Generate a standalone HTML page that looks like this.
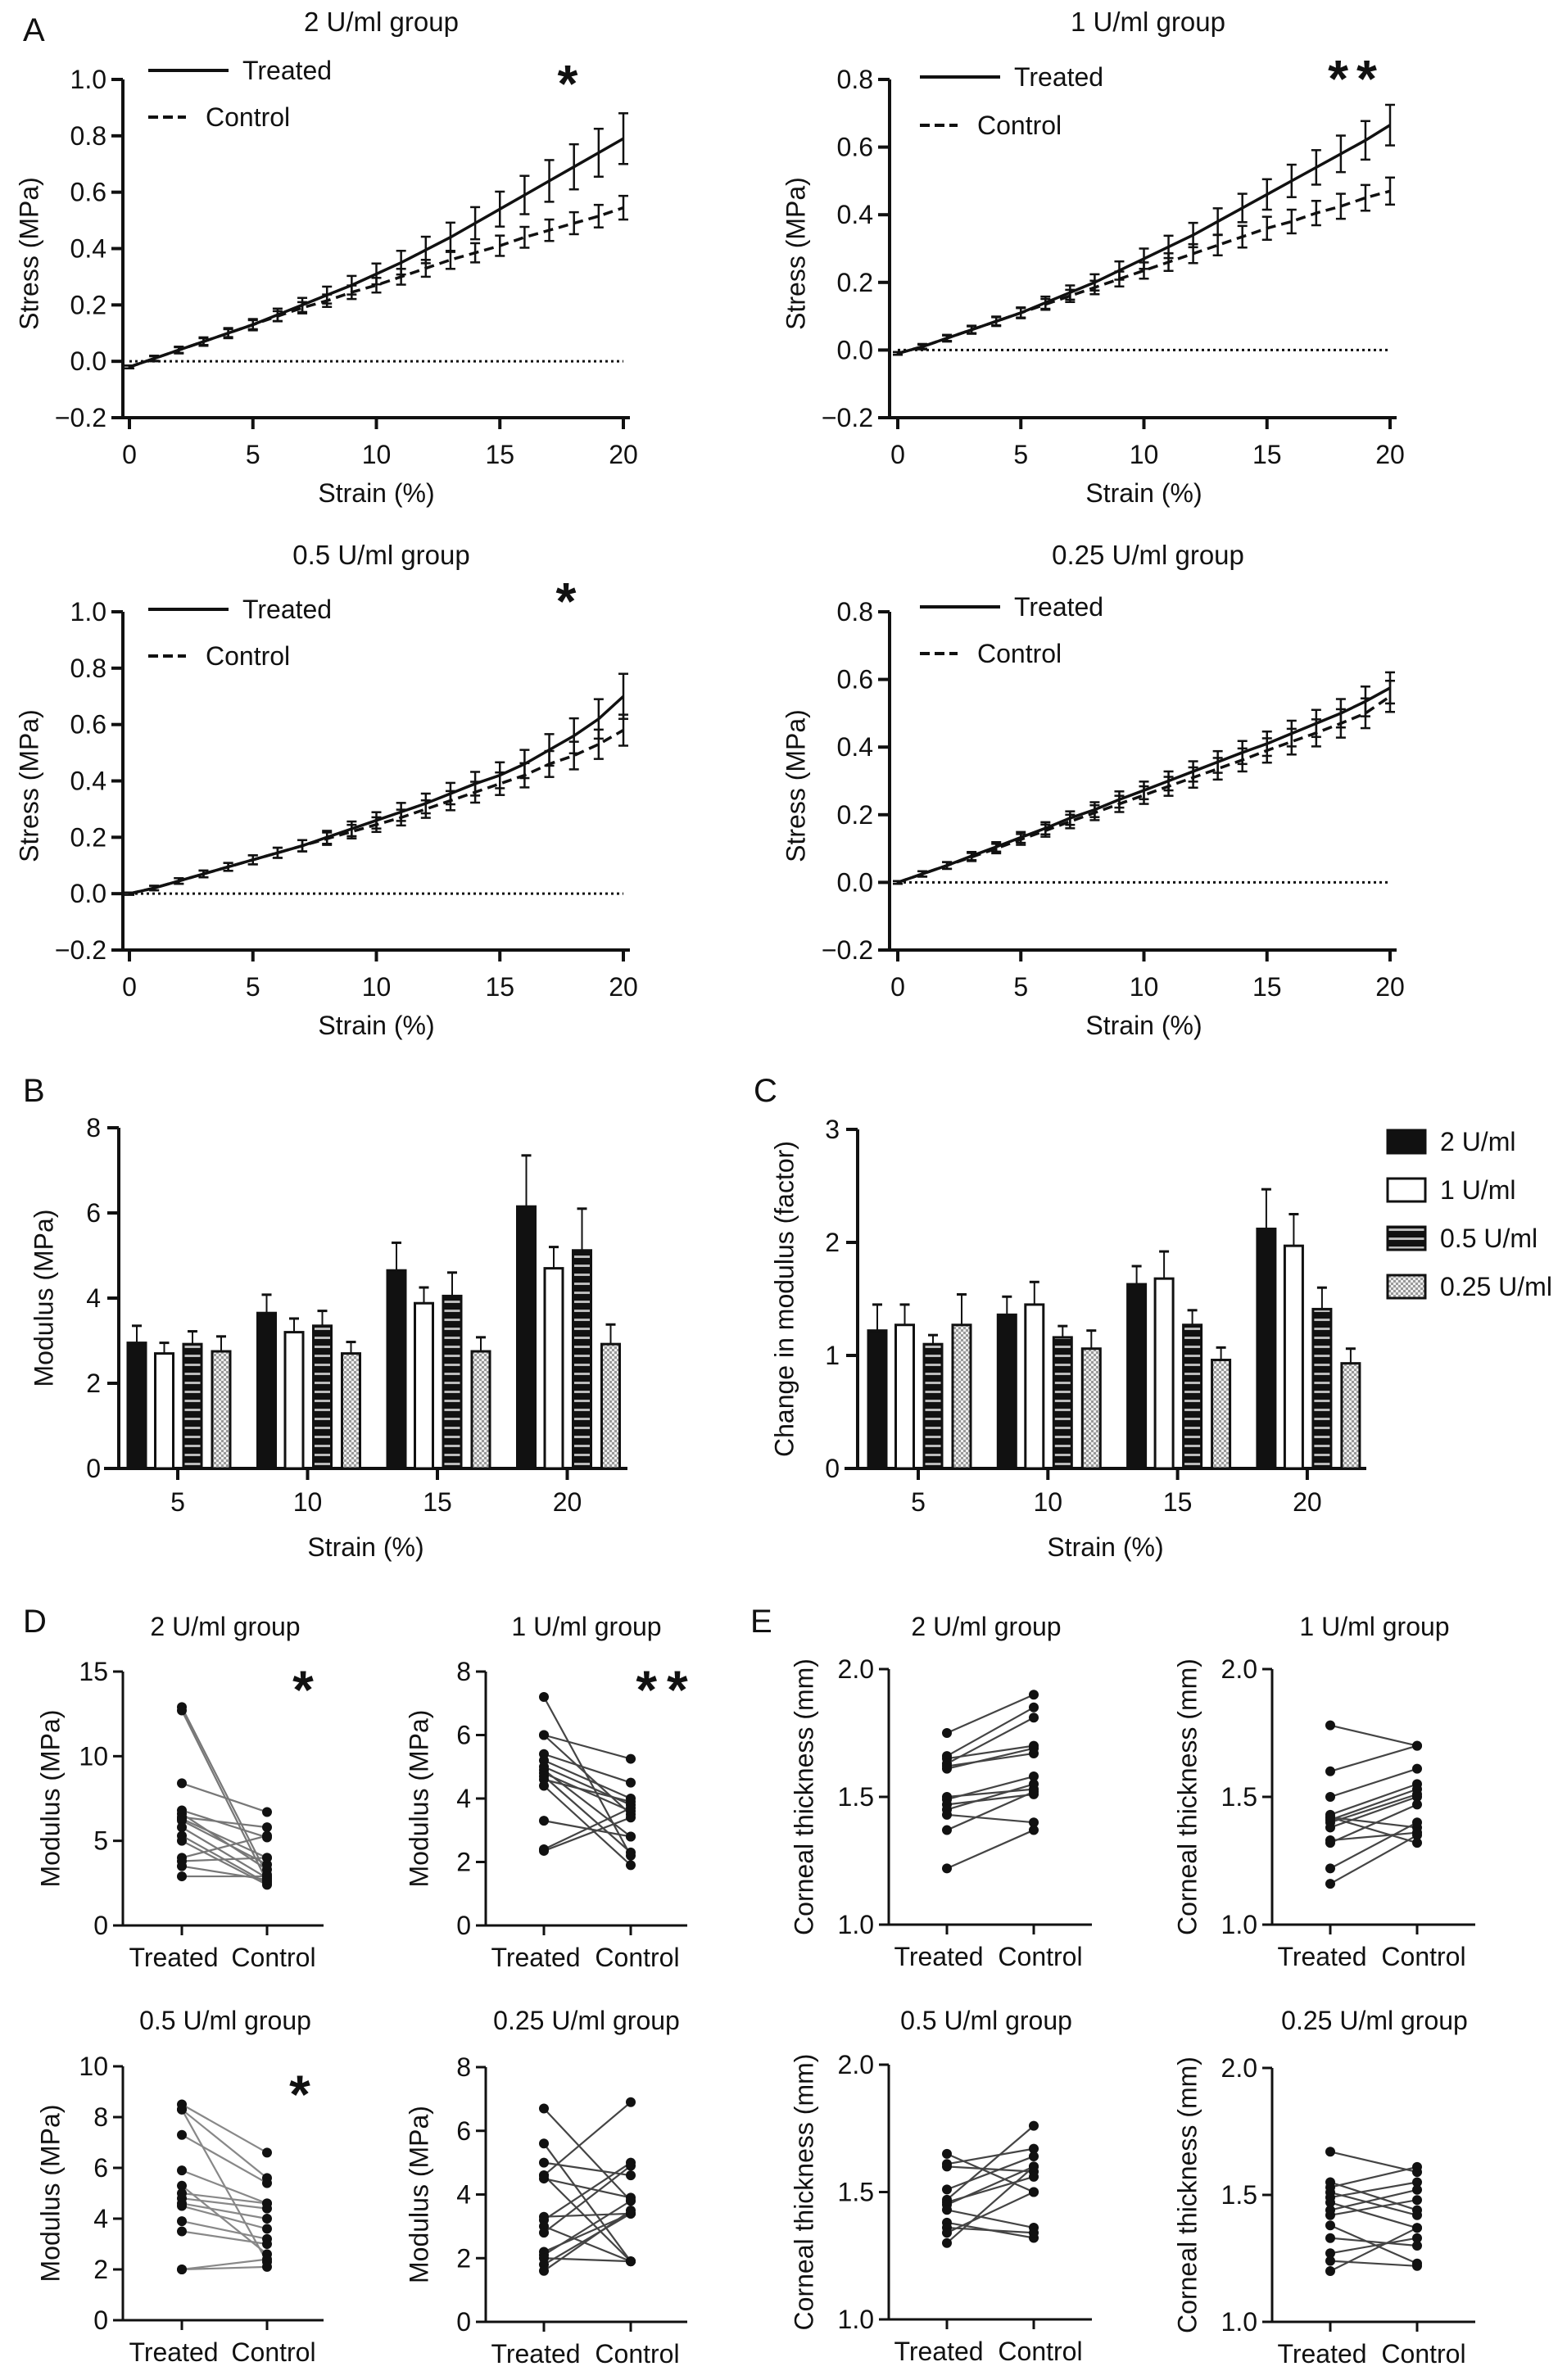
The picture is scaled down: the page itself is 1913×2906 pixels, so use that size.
<!DOCTYPE html>
<html><head><meta charset="utf-8"><style>
html,body{margin:0;padding:0;background:#fff;}
svg{display:block;font-family:"Liberation Sans",Arial,sans-serif;}
</style></head><body>
<svg id="fig" width="1913" height="2906" viewBox="0 0 1913 2906" xmlns="http://www.w3.org/2000/svg">
<defs>
<pattern id="stripes" width="8" height="11" patternUnits="userSpaceOnUse"><rect width="8" height="11" fill="#111"/><rect y="4" width="8" height="3" fill="#bbb"/></pattern>
<pattern id="dots" width="6" height="6" patternUnits="userSpaceOnUse"><rect width="6" height="6" fill="#eee"/><rect width="3" height="3" fill="#999"/><rect x="3" y="3" width="3" height="3" fill="#999"/></pattern>
</defs>
</svg>
<script>
// ---------- Panel A data (strain 0..20 step 1) ----------
const strain = [0,1,2,3,4,5,6,7,8,9,10,11,12,13,14,15,16,17,18,19,20];
const a1Treated = [-0.02,0.01,0.04,0.07,0.10,0.13,0.165,0.20,0.235,0.27,0.31,0.35,0.395,0.44,0.49,0.54,0.59,0.64,0.69,0.74,0.79];
const a1TreatedErr = [0.005,0.01,0.012,0.015,0.018,0.02,0.022,0.025,0.03,0.033,0.037,0.042,0.047,0.052,0.057,0.062,0.068,0.074,0.08,0.085,0.09];
const a1Control = [-0.02,0.01,0.04,0.07,0.10,0.13,0.16,0.19,0.215,0.245,0.27,0.30,0.33,0.36,0.385,0.41,0.44,0.465,0.49,0.515,0.545];
const a1ControlErr = [0.005,0.008,0.01,0.012,0.014,0.016,0.018,0.02,0.022,0.024,0.026,0.028,0.03,0.032,0.034,0.036,0.037,0.038,0.039,0.04,0.042];
const a2Treated = [-0.01,0.01,0.035,0.06,0.085,0.11,0.14,0.17,0.20,0.235,0.27,0.305,0.34,0.38,0.42,0.46,0.50,0.54,0.58,0.62,0.665];
const a2TreatedErr = [0.004,0.008,0.01,0.012,0.014,0.016,0.018,0.021,0.024,0.027,0.03,0.033,0.036,0.039,0.042,0.045,0.048,0.051,0.054,0.057,0.06];
const a2Control = [-0.01,0.01,0.035,0.06,0.085,0.11,0.135,0.16,0.185,0.21,0.235,0.26,0.285,0.31,0.335,0.36,0.38,0.405,0.425,0.45,0.47];
const a2ControlErr = [0.004,0.006,0.008,0.01,0.012,0.014,0.016,0.018,0.02,0.022,0.024,0.026,0.028,0.03,0.032,0.034,0.035,0.036,0.037,0.038,0.04];
const a3Treated = [0,0.02,0.045,0.07,0.095,0.12,0.145,0.17,0.20,0.23,0.26,0.29,0.32,0.355,0.39,0.42,0.46,0.51,0.56,0.62,0.70];
const a3TreatedErr = [0.004,0.008,0.01,0.012,0.014,0.016,0.018,0.02,0.023,0.026,0.029,0.032,0.035,0.038,0.042,0.046,0.05,0.056,0.062,0.07,0.08];
const a3Control = [0,0.02,0.045,0.07,0.095,0.12,0.145,0.17,0.195,0.22,0.245,0.27,0.30,0.33,0.36,0.39,0.42,0.46,0.49,0.53,0.58];
const a3ControlErr = [0.004,0.008,0.01,0.012,0.014,0.016,0.018,0.02,0.022,0.024,0.026,0.028,0.031,0.034,0.037,0.04,0.043,0.046,0.049,0.052,0.055];
const a4Treated = [0,0.025,0.05,0.078,0.105,0.133,0.16,0.19,0.215,0.245,0.272,0.30,0.328,0.356,0.384,0.41,0.44,0.47,0.50,0.535,0.575];
const a4TreatedErr = [0.004,0.008,0.01,0.012,0.014,0.016,0.018,0.02,0.022,0.024,0.026,0.028,0.03,0.032,0.034,0.036,0.038,0.04,0.042,0.044,0.046];
const a4Control = [0,0.025,0.05,0.075,0.1,0.127,0.153,0.18,0.206,0.232,0.258,0.284,0.31,0.336,0.362,0.39,0.416,0.442,0.47,0.5,0.55];
const a4ControlErr = [0.004,0.008,0.01,0.012,0.014,0.016,0.018,0.02,0.022,0.024,0.026,0.028,0.03,0.032,0.034,0.036,0.038,0.04,0.042,0.044,0.046];

// ---------- Panel B / C data ----------
const barCategories = ["5","10","15","20"];
const barGroups = ["2 U/ml","1 U/ml","0.5 U/ml","0.25 U/ml"];
const bMean2 = [2.95,3.65,4.65,6.15];
const bMean1 = [2.7,3.2,3.88,4.7];
const bMean05 = [2.92,3.35,4.05,5.12];
const bMean025 = [2.75,2.7,2.75,2.92];
const bTop2 = [3.35,4.08,5.3,7.35];
const bTop1 = [2.95,3.52,4.25,5.2];
const bTop05 = [3.22,3.7,4.6,6.1];
const bTop025 = [3.1,2.97,3.08,3.38];
const cMean2 = [1.22,1.36,1.63,2.12];
const cMean1 = [1.27,1.45,1.68,1.97];
const cMean05 = [1.1,1.16,1.27,1.41];
const cMean025 = [1.27,1.06,0.96,0.93];
const cTop2 = [1.45,1.52,1.79,2.47];
const cTop1 = [1.45,1.65,1.92,2.25];
const cTop05 = [1.18,1.26,1.4,1.6];
const cTop025 = [1.54,1.22,1.07,1.06];

// ---------- Panel D data (treated, control pairs) ----------
const d1Treated = [12.9,12.7,8.4,6.8,6.6,6.4,6.3,6.2,5.8,5.3,5.0,4.0,3.8,3.5,2.9];
const d1Control = [3.0,2.6,6.7,5.2,3.3,5.8,4.0,3.6,2.8,2.5,2.4,5.3,4.0,2.7,2.9];
const d2Treated = [7.2,6.0,6.0,5.4,5.2,5.0,4.9,4.8,4.7,4.6,4.4,3.3,2.4,2.35];
const d2Control = [2.2,5.25,3.5,4.5,4.0,3.8,2.8,3.6,2.3,3.9,1.9,2.8,3.7,3.4];
const d3Treated = [8.5,8.3,8.3,7.3,5.9,5.3,5.0,4.8,4.6,4.5,3.9,3.5,2.0,2.0];
const d3Control = [6.6,5.6,2.3,5.4,4.6,2.6,4.6,4.4,4.0,3.6,3.2,3.0,2.4,2.1];
const d4Treated = [6.7,5.6,5.0,4.6,4.5,4.6,3.3,3.2,3.0,2.8,2.2,2.1,2.0,1.8,1.6];
const d4Control = [3.8,1.9,4.6,1.9,3.9,6.9,3.4,5.0,1.9,4.9,3.4,3.8,1.9,3.4,3.5];
// ---------- Panel E data ----------
const e1Treated = [1.75,1.66,1.65,1.63,1.62,1.61,1.50,1.49,1.47,1.45,1.43,1.37,1.22];
const e1Control = [1.90,1.85,1.70,1.81,1.67,1.69,1.53,1.58,1.51,1.55,1.40,1.52,1.37];
const e2Treated = [1.78,1.60,1.50,1.43,1.42,1.41,1.40,1.38,1.33,1.32,1.22,1.16,1.42];
const e2Control = [1.70,1.70,1.61,1.55,1.38,1.53,1.51,1.50,1.36,1.47,1.40,1.35,1.32];
const e3Treated = [1.65,1.61,1.60,1.51,1.47,1.46,1.45,1.43,1.38,1.36,1.34,1.30];
const e3Control = [1.50,1.67,1.58,1.64,1.76,1.56,1.60,1.36,1.32,1.34,1.50,1.60];
const e4Treated = [1.67,1.55,1.53,1.51,1.49,1.47,1.44,1.42,1.38,1.33,1.27,1.24,1.20];
const e4Control = [1.59,1.44,1.61,1.42,1.55,1.37,1.52,1.48,1.23,1.30,1.33,1.22,1.37];
const pairLabels = ["Treated","Control"];

const svg = document.getElementById('fig');
const NS = 'http://www.w3.org/2000/svg';
function el(tag, attrs, parent){
  const e = document.createElementNS(NS, tag);
  for (const k in attrs) e.setAttribute(k, attrs[k]);
  (parent||svg).appendChild(e);
  return e;
}
function txt(x,y,s,size,anchor,name,extra){
  const t = el('text', Object.assign({x:x,y:y,'font-size':size,'text-anchor':anchor||'middle',fill:'#111'}, extra||{}));
  t.textContent = s;
  
  
  return t;
}
function ln(x1,y1,x2,y2,w,name,extra){
  const l = el('line', Object.assign({x1:x1,y1:y1,x2:x2,y2:y2,stroke:'#111','stroke-width':w}, extra||{}));
  
  
  return l;
}
function ylabel(x,y,s,name,size){
  const t = txt(x,y,s,size||32,'middle',name,{transform:'rotate(-90 '+x+' '+y+')','dominant-baseline':'middle'});
  return t;
}

// ---------- Line charts ----------
function lineChart(c){
  const sx = v => c.x0 + (v-0)/(20-0)*(c.x1-c.x0);
  const sy = v => c.yb + (v-c.ymin)/(c.ymax-c.ymin)*(c.yt-c.yb);
  txt((c.ax+c.x1)/2+10, c.titleY, c.title, 33, 'middle', c.key+'-title');
  ln(c.ax, c.yt, c.ax, c.yb, 4, c.key+'-y-axis');
  ln(c.ax-2, c.yb, c.x1+8, c.yb, 4, c.key+'-x-axis');
  c.yticks.forEach(v=>{
    ln(c.ax-14, sy(v), c.ax, sy(v), 4, c.key+'-y-tick');
    txt(c.ax-20, sy(v)+11, (v<0?'\u22120.2':v.toFixed(1)), 32, 'end', c.key+'-y-tick-label');
  });
  [0,5,10,15,20].forEach(v=>{
    ln(sx(v), c.yb, sx(v), c.yb+14, 4, c.key+'-x-tick');
    txt(sx(v), c.yb+56, String(v), 32, 'middle', c.key+'-x-tick-label');
  });
  txt((c.x0+c.x1)/2, c.yb+103, 'Strain (%)', 32, 'middle', c.key+'-x-axis-title');
  ylabel(c.ylx, (c.yt+c.yb)/2+6, 'Stress (MPa)', c.key+'-y-axis-title');
  ln(sx(0), sy(0), sx(20), sy(0), 3, c.key+'-zero-line', {'stroke-dasharray':'3,4'});
  const series = [[c.tr,c.trE,'none','treated'],[c.co,c.coE,'12,7','control']];
  series.forEach(s=>{
    const pts = strain.map((x,i)=>sx(x)+','+sy(s[0][i])).join(' ');
    const p = el('polyline',{points:pts,fill:'none',stroke:'#111','stroke-width':3.5,'stroke-dasharray':s[2]});
    
    
    strain.forEach((x,i)=>{
      const X = sx(x), hi = sy(s[0][i]+s[1][i]), lo = sy(s[0][i]-s[1][i]);
      ln(X, hi, X, lo, 2.5, c.key+'-'+s[3]+'-error-bar');
      ln(X-6, hi, X+6, hi, 2.5, c.key+'-'+s[3]+'-error-cap');
      ln(X-6, lo, X+6, lo, 2.5, c.key+'-'+s[3]+'-error-cap');
    });
  });
  ln(c.lx, c.ly1, c.lx+98, c.ly1, 4, c.key+'-legend-treated-line');
  txt(c.lx+115, c.ly1+11, 'Treated', 32, 'start', c.key+'-legend-treated');
  ln(c.lx, c.ly2, c.lx+46, c.ly2, 4, c.key+'-legend-control-line', {'stroke-dasharray':'12,6'});
  txt(c.lx+70, c.ly2+11, 'Control', 32, 'start', c.key+'-legend-control');
  if (c.star) txt(c.starX, c.starY, c.star, 64, 'middle', c.key+'-significance', {'font-weight':'bold','letter-spacing':'10'});
}
lineChart({key:'a1',title:'2 U/ml group',titleY:38,ax:150,x0:158,x1:761,yt:97,yb:510,ymin:-0.2,ymax:1.0,yticks:[-0.2,0,0.2,0.4,0.6,0.8,1.0],ylx:38,tr:a1Treated,trE:a1TreatedErr,co:a1Control,coE:a1ControlErr,lx:181,ly1:86,ly2:143,star:'*',starX:698,starY:124});
lineChart({key:'a2',title:'1 U/ml group',titleY:38,ax:1086,x0:1096,x1:1697,yt:97,yb:510,ymin:-0.2,ymax:0.8,yticks:[-0.2,0,0.2,0.4,0.6,0.8],ylx:974,tr:a2Treated,trE:a2TreatedErr,co:a2Control,coE:a2ControlErr,lx:1123,ly1:94,ly2:153,star:'**',starX:1656,starY:118});
lineChart({key:'a3',title:'0.5 U/ml group',titleY:689,ax:150,x0:158,x1:761,yt:747,yb:1160,ymin:-0.2,ymax:1.0,yticks:[-0.2,0,0.2,0.4,0.6,0.8,1.0],ylx:38,tr:a3Treated,trE:a3TreatedErr,co:a3Control,coE:a3ControlErr,lx:181,ly1:744,ly2:801,star:'*',starX:696,starY:756});
lineChart({key:'a4',title:'0.25 U/ml group',titleY:689,ax:1086,x0:1096,x1:1697,yt:747,yb:1160,ymin:-0.2,ymax:0.8,yticks:[-0.2,0,0.2,0.4,0.6,0.8],ylx:974,tr:a4Treated,trE:a4TreatedErr,co:a4Control,coE:a4ControlErr,lx:1123,ly1:741,ly2:798,star:null});
txt(28,50,'A',40,'start','panel-label-a');
txt(28,1345,'B',40,'start','panel-label-b');
txt(920,1345,'C',40,'start','panel-label-c');
txt(28,1993,'D',40,'start','panel-label-d');
txt(916,1993,'E',40,'start','panel-label-e');

// ---------- Bar charts ----------
const fills = ['#111','#fff','url(#stripes)','url(#dots)'];
const barOffsets = [-50,-16.5,18,53];
function barChart(c){
  const sy = v => c.yb + v/c.ymax*(c.yt-c.yb);
  const means = c.means, tops = c.tops;
  ln(c.ax, c.yt, c.ax, c.yb, 4, c.key+'-y-axis');
  ln(c.xs, c.yb, c.xe, c.yb, 4, c.key+'-x-axis');
  c.yticks.forEach(v=>{
    ln(c.ax-14, sy(v), c.ax, sy(v), 4, c.key+'-y-tick');
    txt(c.ax-22, sy(v)+11, String(v), 32, 'end', c.key+'-y-tick-label');
  });
  barCategories.forEach((cat,ci)=>{
    const cx = c.c0 + ci*c.step;
    ln(cx, c.yb, cx, c.yb+14, 4, c.key+'-x-tick');
    txt(cx, c.yb+52, cat, 32, 'middle', c.key+'-x-tick-label');
    means.forEach((m,gi)=>{
      const bx = cx + barOffsets[gi];
      ln(bx, sy(tops[gi][ci]), bx, sy(m[ci]), 2, c.key+'-error-bar');
      ln(bx-6, sy(tops[gi][ci]), bx+6, sy(tops[gi][ci]), 3, c.key+'-error-cap');
      const r = el('rect',{x:bx-11,y:sy(m[ci]),width:22,height:sy(0)-sy(m[ci]),fill:fills[gi],stroke:'#111','stroke-width':3});
      
      
    });
  });
  txt((c.xs+c.xe)/2, c.yb+107, 'Strain (%)', 32, 'middle', c.key+'-x-axis-title');
  ylabel(c.ylx, (c.yt+c.yb)/2, c.ytitle, c.key+'-y-axis-title');
}
barChart({key:'b',ax:145,xs:127,xe:766,yt:1377,yb:1793,ymax:8,yticks:[0,2,4,6,8],c0:217,step:158.5,means:[bMean2,bMean1,bMean05,bMean025],tops:[bTop2,bTop1,bTop05,bTop025],ylx:56,ytitle:'Modulus (MPa)'});
barChart({key:'c',ax:1047,xs:1031,xe:1668,yt:1379,yb:1793,ymax:3,yticks:[0,1,2,3],c0:1121,step:158.3,means:[cMean2,cMean1,cMean05,cMean025],tops:[cTop2,cTop1,cTop05,cTop025],ylx:960,ytitle:'Change in modulus (factor)'});
barGroups.forEach((g,i)=>{
  const y = 1394 + i*59;
  const r = el('rect',{x:1694,y:y-14,width:46,height:28,fill:fills[i],stroke:'#111','stroke-width':3});
  
  
  txt(1758, y+11, g, 32, 'start', 'legend-entry-'+i);
});

// ---------- Paired dot plots ----------
function pairPlot(c){
  const sy = v => c.yb + (v-c.ymin)/(c.ymax-c.ymin)*(c.yt-c.yb);
  txt(c.titleX, c.titleY, c.title, 32, 'middle', c.key+'-title');
  ln(c.ax, c.yt, c.ax, c.yb, 3, c.key+'-y-axis');
  ln(c.ax, c.yb, c.xe, c.yb, 3, c.key+'-x-axis');
  c.yticks.forEach(v=>{
    ln(c.ax-12, sy(v), c.ax, sy(v), 3, c.key+'-y-tick');
    txt(c.ax-18, sy(v)+11, c.fmt(v), 32, 'end', c.key+'-y-tick-label');
  });
  [c.tx, c.cx].forEach((x,i)=>{
    ln(x, c.yb, x, c.yb+12, 3, c.key+'-x-tick');
    txt(x + (i===0?-10:8), c.yb+50, pairLabels[i], 32, 'middle', c.key+'-x-tick-label');
  });
  ylabel(c.ylx, (c.yt+c.yb)/2, c.ytitle, c.key+'-y-axis-title');
  c.tr.forEach((v,i)=>{
    ln(c.tx, sy(v), c.cx, sy(c.co[i]), 2.2, c.key+'-pair-line', {stroke:c.lc});
  });
  c.tr.forEach((v,i)=>{
    const a = el('circle',{cx:c.tx,cy:sy(v),r:6,fill:'#111'});
    
    
    const b = el('circle',{cx:c.cx,cy:sy(c.co[i]),r:6,fill:'#111'});
    
    
  });
  if (c.star) txt(c.starX, c.starY, c.star, 66, 'middle', c.key+'-significance', {'font-weight':'bold','letter-spacing':'12'});
}
const fi = v => String(v), f1 = v => v.toFixed(1);
pairPlot({key:'d1',title:'2 U/ml group',titleX:275,titleY:1997,ax:150,xe:395,yt:2041,yb:2351,ymin:0,ymax:15,yticks:[0,5,10,15],fmt:fi,tx:222,cx:326,tr:d1Treated,co:d1Control,lc:'#777',ylx:64,ytitle:'Modulus (MPa)',star:'*',starX:376,starY:2086});
pairPlot({key:'d2',title:'1 U/ml group',titleX:716,titleY:1997,ax:593,xe:839,yt:2041,yb:2351,ymin:0,ymax:8,yticks:[0,2,4,6,8],fmt:fi,tx:664,cx:770,tr:d2Treated,co:d2Control,lc:'#444',ylx:514,ytitle:'Modulus (MPa)',star:'**',starX:814,starY:2086});
pairPlot({key:'d3',title:'0.5 U/ml group',titleX:275,titleY:2478,ax:150,xe:395,yt:2523,yb:2833,ymin:0,ymax:10,yticks:[0,2,4,6,8,10],fmt:fi,tx:222,cx:326,tr:d3Treated,co:d3Control,lc:'#888',ylx:64,ytitle:'Modulus (MPa)',star:'*',starX:372,starY:2580});
pairPlot({key:'d4',title:'0.25 U/ml group',titleX:716,titleY:2478,ax:593,xe:839,yt:2524,yb:2835,ymin:0,ymax:8,yticks:[0,2,4,6,8],fmt:fi,tx:664,cx:770,tr:d4Treated,co:d4Control,lc:'#444',ylx:514,ytitle:'Modulus (MPa)',star:null});
pairPlot({key:'e1',title:'2 U/ml group',titleX:1204,titleY:1997,ax:1085,xe:1333,yt:2038,yb:2350,ymin:1,ymax:2,yticks:[1,1.5,2],fmt:f1,tx:1156,cx:1262,tr:e1Treated,co:e1Control,lc:'#444',ylx:984,ytitle:'Corneal thickness (mm)',star:null});
pairPlot({key:'e2',title:'1 U/ml group',titleX:1678,titleY:1997,ax:1553,xe:1801,yt:2038,yb:2350,ymin:1,ymax:2,yticks:[1,1.5,2],fmt:f1,tx:1624,cx:1730,tr:e2Treated,co:e2Control,lc:'#444',ylx:1452,ytitle:'Corneal thickness (mm)',star:null});
pairPlot({key:'e3',title:'0.5 U/ml group',titleX:1204,titleY:2478,ax:1085,xe:1333,yt:2521,yb:2832,ymin:1,ymax:2,yticks:[1,1.5,2],fmt:f1,tx:1156,cx:1262,tr:e3Treated,co:e3Control,lc:'#444',ylx:984,ytitle:'Corneal thickness (mm)',star:null});
pairPlot({key:'e4',title:'0.25 U/ml group',titleX:1678,titleY:2478,ax:1553,xe:1801,yt:2525,yb:2835,ymin:1,ymax:2,yticks:[1,1.5,2],fmt:f1,tx:1624,cx:1730,tr:e4Treated,co:e4Control,lc:'#444',ylx:1452,ytitle:'Corneal thickness (mm)',star:null});
</script>
</body></html>
